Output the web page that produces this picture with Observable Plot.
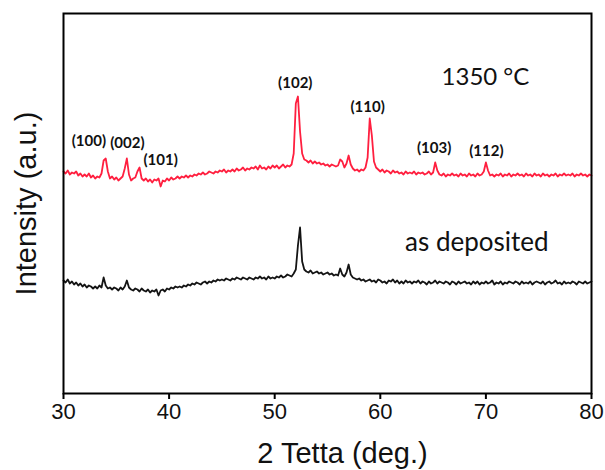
<!DOCTYPE html>
<html>
<head>
<meta charset="utf-8">
<script src="https://cdn.jsdelivr.net/npm/d3@7"></script>
<script src="https://cdn.jsdelivr.net/npm/@observablehq/plot@0.6"></script>
<style>
  html, body { margin: 0; padding: 0; background: #fff; }
  #chart svg { display: block; }
</style>
</head>
<body>
<div id="chart"></div>
<script>
// XRD patterns sampled every 0.2° from 30° to 80° (2θ), intensity in arbitrary units.
const scanStart = 30;
const scanStep = 0.2;

// Film annealed at 1350 °C
const annealed = [
  222,220,223,219,221, 220,222,218,220,217, 219,217,220,216,218, 215,217,216,220,233,
  235,222,215,217,214, 216,213,215,217,225, 235,219,213,215,216, 222,226,215,213,215,
  212,214,211,214,213, 215,207,213,212,215, 213,216,214,215,217, 215,217,216,218,216,
  218,217,219,218,220, 219,221,219,220,222, 221,220,222,221,223, 222,224,221,223,222,
  224,222,225,223,224, 226,223,225,224,226, 225,227,224,228,225, 226,224,227,225,228,
  226,228,225,227,229, 226,228,227,229,240, 290,297,262,240,234, 233,231,233,230,232,
  230,231,229,230,228, 229,227,229,228,227, 228,234,232,226,230, 238,229,225,223,224,
  222,224,223,226,236, 275,258,232,226,224, 222,224,221,223,222, 220,223,221,222,220,
  221,219,222,220,221, 220,222,219,221,220, 221,219,220,222,219, 221,231,223,219,218,
  220,217,219,218,220, 218,219,217,220,218, 219,217,220,218,219, 217,220,218,219,222,
  231,223,218,219,217, 219,218,220,217,219, 218,220,217,219,218, 220,218,219,217,220,
  218,219,217,220,218, 219,217,220,218,219, 217,219,218,220,217, 219,218,220,218,219,
  218,220,217,219,218, 220,218,219,217,219, 218
];

// As-deposited film
const asDeposited = [
  113,111,114,110,112, 109,111,108,110,107, 109,106,108,107,105, 107,105,108,106,116,
  108,105,106,104,106, 105,103,106,104,107, 113,106,104,103,105, 104,102,105,103,102,
  104,101,103,102,104, 98,103,104,102,105, 104,106,105,107,106, 107,106,108,107,109,
  108,110,109,111,110, 109,111,112,110,112, 111,113,112,114,113, 114,113,115,114,113,
  115,114,116,115,114, 116,115,114,116,115, 114,116,115,117,115, 116,114,117,115,116,
  115,117,116,118,116, 117,119,118,117,120, 124,148,166,132,124, 122,121,123,120,121,
  122,120,121,119,120, 121,119,120,118,119, 118,125,119,117,121, 129,119,116,115,114,
  115,113,114,112,113, 114,112,113,111,114, 113,111,112,110,113, 112,114,111,113,110,
  112,110,113,111,112, 110,112,111,113,110, 112,111,109,112,110, 111,113,110,112,111,
  110,112,111,109,112, 111,109,112,110,111, 112,110,111,109,112, 110,112,109,111,110,
  112,110,111,113,109, 111,110,112,109,111, 110,112,111,110,112, 111,109,112,110,111,
  110,112,109,111,112, 111,110,112,109,111, 112,110,111,113,110, 111,109,112,110,111,
  110,112,111,109,112, 111,110,112,110,111, 112
];

// Reflection labels for the annealed film: Miller indices, 2θ and label height
const peakNames = ["(100)", "(002)", "(101)", "(102)", "(110)", "(103)", "(112)"];
const peakAngles = [32.4, 36.05, 39.2, 51.95, 58.8, 65.1, 70.05];
const peakLabelLevels = [252, 250, 233, 310, 286, 245, 242];

// Sample captions
const captions = ["1350 °C", "as deposited"];
const captionAngles = [65.8, 62.35];
const captionLevels = [316, 151];

const xTicks = [30, 40, 50, 60, 70, 80];

const rows = annealed.map((v, i) => ({
  angle: scanStart + i * scanStep,
  annealed: v,
  asDeposited: asDeposited[i]
}));
const peaks = peakNames.map((name, i) => ({name, angle: peakAngles[i], level: peakLabelLevels[i]}));
const notes = captions.map((text, i) => ({text, angle: captionAngles[i], level: captionLevels[i]}));

const chart = Plot.plot({
  width: 605,
  height: 470,
  marginLeft: 63,
  marginRight: 14,
  marginTop: 13,
  marginBottom: 77,
  style: {background: "#fff", fontFamily: "'Liberation Sans', Arial, sans-serif"},
  x: {domain: [30, 80]},
  y: {domain: [0, 380], axis: null},
  marks: [
    Plot.line(rows, {x: "angle", y: "asDeposited", stroke: "#141414", strokeWidth: 1.8}),
    Plot.line(rows, {x: "angle", y: "annealed", stroke: "#ff1f3f", strokeWidth: 1.8}),
    Plot.text(peaks, {
      x: "angle", y: "level", text: "name",
      fontFamily: "Lato, 'Open Sans', sans-serif", fontWeight: "bold", fontSize: 15,
      fill: "#111"
    }),
    Plot.text(notes, {
      x: "angle", y: "level", text: "text", textAnchor: "start",
      fontFamily: "Lato, 'Open Sans', sans-serif", fontSize: d => d.text === "as deposited" ? 26 : 24,
      fill: "#111"
    }),
    Plot.axisX({
      ticks: xTicks, tickSize: 6, tickPadding: 4, strokeWidth: 2,
      fontSize: 22, label: null, fill: "#111"
    }),
    Plot.text(["2 Tetta (deg.)"], {
      frameAnchor: "bottom", lineAnchor: "middle", dx: 15, dy: 60,
      fontSize: 29, fill: "#111"
    }),
    Plot.text(["Intensity (a.u.)"], {
      frameAnchor: "left", textAnchor: "middle", lineAnchor: "middle", rotate: -90, dx: -37,
      fontSize: 29, fill: "#111"
    }),
    Plot.frame({stroke: "#000", strokeWidth: 2})
  ]
});

document.getElementById("chart").append(chart);
</script>
</body>
</html>
